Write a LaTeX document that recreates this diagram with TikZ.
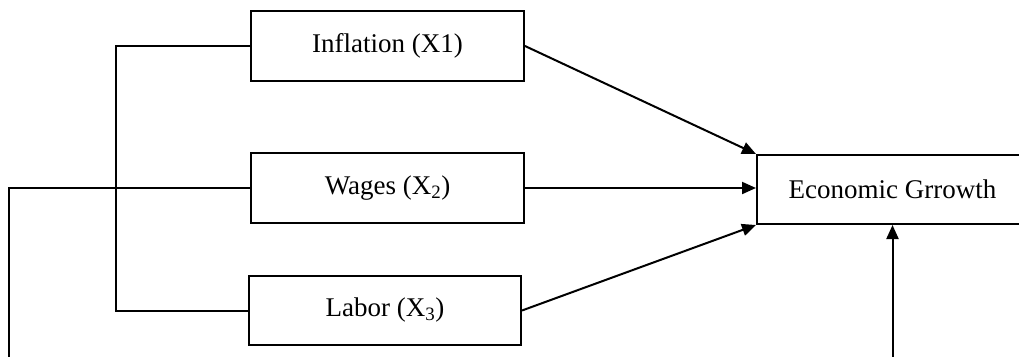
\documentclass[tikz,border=0pt]{standalone}
\usepackage{fontspec}
\setmainfont{Liberation Serif}
\usetikzlibrary{arrows.meta}
\begin{document}
\begin{tikzpicture}[x=1pt,y=-1pt,
  varbox/.style={draw,line width=2pt,inner sep=0pt,minimum width=273pt,minimum height=70pt,font=\fontsize{27}{32}\selectfont},
  conn/.style={line width=2pt},
  arr/.style={line width=2pt,-{Triangle[length=14pt,width=12pt]}}]
\clip (0,0) rectangle (1019,356);
\fill[white] (0,0) rectangle (1019,356);
\node[varbox] (inf) at (387.5,46) {Inflation (X1)};
\node[varbox] (wag) at (387.5,188) {Wages (X\textsubscript{2})};
\node[varbox,minimum width=272pt,minimum height=69pt] (lab) at (385,310.5) {Labor (X\textsubscript{3})};
\node[varbox,minimum width=271pt,minimum height=69pt] (eco) at (892.5,189.5) {Economic Grrowth};
\coordinate (bx) at (116,0);
\coordinate (lx) at (9,0);
\coordinate (below) at (0,380);
\draw[conn] (inf.west) -- (inf.west -| bx) -- (lab.west -| bx) -- (lab.west);
\draw[arr] (wag.west) -- (wag.west -| lx) -- (below -| lx) -- (below -| eco.south) -- (eco.south);
\draw[arr] (inf.east) -- (eco.north west);
\draw[arr] (wag.east) -- (eco.west |- wag.east);
\draw[arr] (lab.east) -- (eco.south west);
\end{tikzpicture}
\end{document}
